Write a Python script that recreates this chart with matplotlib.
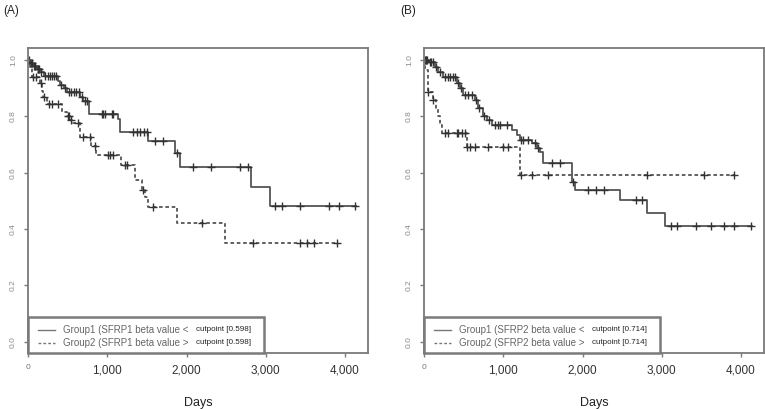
import numpy as np
import matplotlib
matplotlib.use("Agg")
import matplotlib.pyplot as plt
from matplotlib.patches import Rectangle
from matplotlib.lines import Line2D

plt.rcParams['font.family'] = ['Liberation Sans', 'DejaVu Sans']

# ---------------- data ----------------
# Panel A, Group1 (solid)
a1_times = [20, 60, 110, 160, 200, 380, 403, 450, 491, 655, 700, 768, 1133, 1159, 1511, 1851, 1914, 2808, 3048]
a1_surv  = [0.99, 0.98, 0.97, 0.957, 0.945, 0.925, 0.91, 0.90, 0.885, 0.87, 0.855, 0.81, 0.79, 0.745, 0.713, 0.67, 0.62, 0.55, 0.482]
a1_end = 4143
a1_cens = [10, 30, 40, 50, 80, 90, 120, 130, 140, 170, 220, 250, 280, 300, 330, 350, 420, 470, 520, 540, 580, 610,
           640, 680, 720, 740, 932, 945, 970, 1058, 1070, 1322, 1373, 1410, 1461, 1499, 1599, 1700, 1876,
           2078, 2305, 2670, 2770, 3111, 3199, 3438, 3803, 3929, 4131]
# Panel A, Group2 (dashed)
a2_times = [25, 50, 150, 175, 190, 240, 428, 491, 529, 554, 655, 793, 856, 1171, 1348, 1436, 1474, 1511, 1876, 2481]
a2_surv  = [0.975, 0.94, 0.92, 0.89, 0.87, 0.845, 0.816, 0.80, 0.787, 0.777, 0.727, 0.695, 0.663, 0.628, 0.574,
            0.539, 0.514, 0.479, 0.42, 0.35]
a2_end = 3904
a2_cens = [60, 100, 160, 200, 260, 300, 380, 500, 515, 540, 630, 693, 781, 844, 1008, 1033, 1070, 1222, 1247,
           1450, 1574, 2191, 2834, 3426, 3526, 3614, 3904]

# Panel B, Group1 (solid)
b1_times = [50, 138, 176, 239, 415, 453, 491, 642, 680, 742, 793, 856, 1107, 1170, 1208, 1359, 1422, 1460, 1497,
            1862, 1900, 2479, 2818, 3045]
b1_surv  = [0.993, 0.975, 0.957, 0.94, 0.92, 0.90, 0.876, 0.858, 0.83, 0.80, 0.787, 0.77, 0.752, 0.734, 0.716,
            0.705, 0.688, 0.674, 0.635, 0.567, 0.54, 0.504, 0.457, 0.41]
b1_end = 4140
b1_cens = [10, 20, 30, 40, 70, 90, 110, 150, 200, 260, 300, 330, 360, 390, 430, 470, 520, 560, 600, 660, 700,
           760, 820, 893, 931, 960, 1044, 1220, 1246, 1308, 1400, 1440, 1610, 1711, 1880, 2063, 2176, 2277,
           2680, 2755, 3120, 3196, 3434, 3623, 3786, 3912, 4127]
# Panel B, Group2 (dashed)
b2_times = [15, 50, 113, 150, 180, 200, 226, 541, 1208]
b2_surv  = [0.965, 0.888, 0.858, 0.83, 0.80, 0.77, 0.74, 0.69, 0.593]
b2_end = 3912
b2_cens = [50, 113, 264, 302, 415, 428, 478, 516, 541, 579, 642, 805, 994, 1057, 1230, 1359, 1560, 2818, 3535, 3912]

x_ticks = [0, 1000, 2000, 3000, 4000]
x_ticklabels = ["0", "1,000", "2,000", "3,000", "4,000"]
y_ticks = [0.0, 0.2, 0.4, 0.6, 0.8, 1.0]
y_ticklabels = ["0.0", "0.2", "0.4", "0.6", "0.8", "1.0"]

panel_labels = ["(A)", "(B)"]
legend_g1 = ["Group1 (SFRP1 beta value <", "Group1 (SFRP2 beta value <"]
legend_g2 = ["Group2 (SFRP1 beta value >", "Group2 (SFRP2 beta value >"]
cutpoints = ["cutpoint [0.598]", "cutpoint [0.714]"]

# ---------------- drawing ----------------
W, H = 765, 409
fig = plt.figure(figsize=(W / 100, H / 100), dpi=100)

line_col = "#555555"
box_col = "#7a7a7a"


def km(ax, times, surv, end, cens, ls):
    t = np.concatenate([[0], times, [end]])
    s = np.concatenate([[1.0], surv, [surv[-1]]])
    dash = (0, (2.0, 1.5)) if ls == "--" else "-"
    ax.step(t, s, where="post", color=line_col, lw=1.3, linestyle=dash)
    c = np.asarray(cens, dtype=float)
    idx = np.searchsorted(t, c, side="right") - 1
    ax.plot(c, s[idx], linestyle="none", marker="+", color="#333333", ms=6, mew=1.0)


panels = [
    (28, (a1_times, a1_surv, a1_end, a1_cens), (a2_times, a2_surv, a2_end, a2_cens)),
    (424, (b1_times, b1_surv, b1_end, b1_cens), (b2_times, b2_surv, b2_end, b2_cens)),
]

for i, (x0, g1, g2) in enumerate(panels):
    ax = fig.add_axes([x0 / W, 1 - 353 / H, 340 / W, 305 / H])
    km(ax, *g1, ls="-")
    km(ax, *g2, ls="--")
    ax.set_xlim(0, 4290)
    ax.set_ylim(-0.04, 1.043)
    for sp in ax.spines.values():
        sp.set_color(box_col)
        sp.set_linewidth(1.3)
    ax.set_xticks(x_ticks)
    ax.set_xticklabels(x_ticklabels, fontsize=8.5, color="#333333")
    lbl0 = ax.get_xticklabels()[0]
    lbl0.set_fontsize(6)
    lbl0.set_color("#777777")
    ax.tick_params(axis="x", length=3, width=1, color=box_col, pad=5)
    ax.set_yticks(y_ticks)
    ax.set_yticklabels(y_ticklabels, fontsize=6, color="#8a8a8a", rotation=90, va="center")
    ax.tick_params(axis="y", length=3, width=1, color=box_col, pad=5)
    ax.set_xlabel("Days", fontsize=9, color="#222222", labelpad=15)

    # legend box
    ax.add_patch(Rectangle((0, 0), 0.695, 0.118, transform=ax.transAxes,
                           fill=True, facecolor="white", edgecolor=box_col, lw=1.8, zorder=5, clip_on=False))
    for row, (txt, ls) in enumerate([(legend_g1[i], "-"), (legend_g2[i], "--")]):
        yy = 0.077 - row * 0.043
        dash = (0, (2.0, 1.5)) if ls == "--" else "-"
        ax.add_line(Line2D([0.03, 0.08], [yy, yy], transform=ax.transAxes, color="#777777",
                           lw=1.0, linestyle=dash, zorder=6))
        ax.text(0.103, yy, txt, transform=ax.transAxes, fontsize=7, color="#666666",
                va="center", ha="left", zorder=6)
        ax.text(0.495, yy, cutpoints[i], transform=ax.transAxes, fontsize=5.8, color="#222222",
                va="center", ha="left", zorder=6)

    fig.text((x0 - 25) / W if i == 0 else (x0 - 24) / W, 1 - 11 / H, panel_labels[i],
             fontsize=8.5, color="#222222", va="center", ha="left")

fig.savefig("out.png", dpi=100)
